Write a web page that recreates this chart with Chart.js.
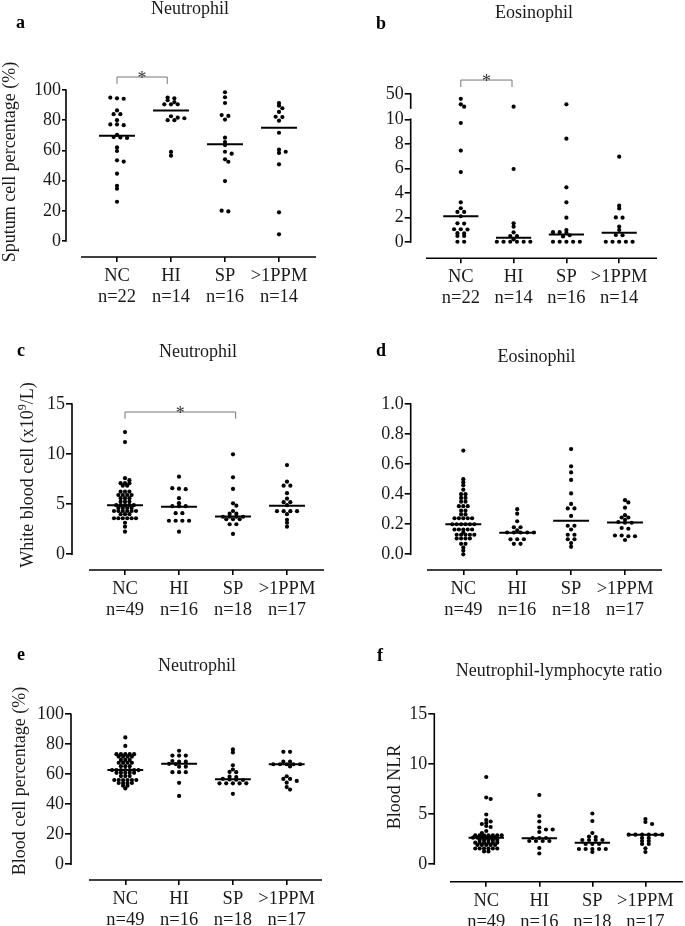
<!DOCTYPE html>
<html>
<head>
<meta charset="utf-8">
<title>Sputum and blood neutrophil / eosinophil counts</title>
<script src="https://cdn.jsdelivr.net/npm/chart.js"></script>
<style>
  body { margin: 0; background: #fff; }
  #fig { position: relative; width: 685px; height: 926px; overflow: hidden; background: #fff;
         font-family: "Liberation Serif", "Times New Roman", serif; color: #1a1a1a; }
  #fig canvas { position: absolute; }
  .title { position: absolute; font-size: 18px; line-height: 18px; white-space: nowrap; transform: translateX(-50%); }
  .letter { position: absolute; font-size: 18px; line-height: 18px; font-weight: bold; color: #000; }
</style>
</head>
<body>
<div id="fig">
  <div class="letter" style="left:16px;top:13px">a</div>
  <div class="title" style="left:190px;top:-1.5px">Neutrophil</div>
  <div class="letter" style="left:376px;top:14px">b</div>
  <div class="title" style="left:534px;top:3.3px">Eosinophil</div>
  <div class="letter" style="left:17px;top:341px">c</div>
  <div class="title" style="left:198px;top:342.3px">Neutrophil</div>
  <div class="letter" style="left:376px;top:341px">d</div>
  <div class="title" style="left:536.5px;top:347px">Eosinophil</div>
  <div class="letter" style="left:17px;top:645px">e</div>
  <div class="title" style="left:197px;top:656px">Neutrophil</div>
  <div class="letter" style="left:377px;top:646px">f</div>
  <div class="title" style="left:559px;top:661px">Neutrophil-lymphocyte ratio</div>
</div>
<script>
Chart.defaults.font.family = '"Liberation Serif", "Times New Roman", serif';
Chart.defaults.font.size = 18;
Chart.defaults.color = '#1a1a1a';

const groups = ['NC', 'HI', 'SP', '>1PPM'];
const nSputum = [22, 14, 16, 14];
const nBlood = [49, 16, 18, 17];

// a: sputum neutrophil (%)
const aNC = [95, 94.5, 94.2, 86.5, 84, 84, 80, 77.2, 77.2, 76.7, 70.3, 68.8, 68.6, 68.2, 62, 59.6, 53.4, 52.6, 44.6, 36.6, 34.6, 26];
const aHI = [95, 94.5, 93.2, 92, 90.5, 90.5, 90.5, 82.6, 81.7, 81.3, 80, 80, 59, 56.5];
const aSP = [98.5, 95.2, 91.4, 83.4, 82.8, 80.4, 68.4, 65.5, 63.5, 59.1, 57.8, 54.1, 52.5, 39.7, 20.1, 19.6];
const aPPM = [91.4, 89.6, 87.9, 85.5, 82.3, 82.1, 79.7, 71.7, 60.5, 59.1, 58.3, 50.8, 19, 4.4];
const aMedian = [69.7, 86.5, 64, 75];

// b: sputum eosinophil (%), broken axis above 10
const bNC = [40, 28, 23, 9.7, 7.45, 5.7, 3.23, 2.75, 2.45, 2.45, 2.1, 1.52, 1.5, 1.04, 1.04, 1.02, 0.72, 0.7, 0.49, 0.49, 0.02, 0.02];
const bHI = [23, 5.95, 1.52, 1.25, 0.79, 0.49, 0.49, 0.22, 0.02, 0.02, 0.02, 0.02, 0.02, 0.02];
const bSP = [28, 8.42, 4.46, 3.23, 1.98, 0.98, 0.8, 0.8, 0.75, 0.55, 0.45, 0.02, 0.02, 0.02, 0.02, 0.02];
const bPPM = [6.95, 2.96, 2.74, 2.0, 1.98, 1.25, 0.98, 0.57, 0.55, 0.02, 0.02, 0.02, 0.02, 0.02];
const bMedian = [2.1, 0.35, 0.62, 0.76];

// c: blood neutrophil (x10^9/L)
const cNC = [12.2, 11.2, 7.6, 7.4, 7.1, 7.1, 7.1, 6.85, 6.85, 6.25, 6.25, 6.25, 5.92, 5.92, 5.92, 5.92,
  5.6, 5.6, 5.6, 5.25, 5.25, 5.25, 4.9, 4.9, 4.9, 4.9, 4.9, 4.62, 4.62, 4.62, 4.62,
  4.32, 4.32, 4.32, 4.32, 4.32, 4.32, 4.0, 4.0, 4.0, 3.6, 3.6, 3.6, 3.6, 3.6, 3.6, 3.15, 2.76, 2.26];
const cHI = [7.75, 6.6, 6.55, 6.5, 5.6, 5.1, 4.8, 4.8, 4.8, 4.1, 4.1, 3.35, 3.35, 3.35, 3.35, 2.26];
const cSP = [9.98, 7.68, 6.52, 5.09, 4.85, 4.32, 4.05, 4.05, 3.75, 3.75, 3.75, 3.75, 3.5, 3.5, 3.5, 3.0, 3.0, 2.03];
const cPPM = [8.9, 7.25, 6.85, 6.85, 6.1, 5.55, 5.2, 5.2, 4.9, 4.3, 4.3, 4.3, 4.3, 4.0, 3.45, 3.15, 2.76];
const cMedian = [4.89, 4.75, 3.77, 4.85];

// d: blood eosinophil (x10^9/L)
const dNC = [0.69, 0.5, 0.48, 0.46, 0.43, 0.4, 0.4, 0.375, 0.375, 0.35, 0.35, 0.32, 0.32, 0.32,
  0.29, 0.29, 0.265, 0.265, 0.24, 0.24, 0.24, 0.24, 0.24, 0.2, 0.2, 0.2, 0.2, 0.2, 0.2,
  0.165, 0.165, 0.165, 0.165, 0.165, 0.145, 0.13, 0.13, 0.13, 0.13, 0.13, 0.105, 0.105, 0.105, 0.105,
  0.07, 0.07, 0.045, 0.025, 0.0];
const dHI = [0.3, 0.27, 0.22, 0.18, 0.18, 0.16, 0.145, 0.145, 0.145, 0.145, 0.145, 0.1, 0.1, 0.1, 0.07, 0.07];
const dSP = [0.7, 0.585, 0.545, 0.495, 0.405, 0.335, 0.305, 0.305, 0.255, 0.19, 0.19, 0.165, 0.13, 0.13, 0.1, 0.1, 0.075, 0.05];
const dPPM = [0.36, 0.345, 0.31, 0.26, 0.245, 0.245, 0.23, 0.215, 0.21, 0.21, 0.175, 0.17, 0.125, 0.125, 0.12, 0.12, 0.095];
const dMedian = [0.2, 0.144, 0.224, 0.212];

// e: blood neutrophil (%)
const eNC = [84.6, 78.9, 73.4, 73.4, 73.4, 73.4, 73.4, 71.8, 71.8, 71.8, 71.8, 69.6, 69.6, 69.6,
  67.7, 67.7, 67.7, 67.7, 65.4, 65.4, 65.4, 62.8, 62.8, 62.8, 62.8, 62.8, 62.8, 62.8,
  61, 61, 61, 61, 61, 58.8, 58.8, 58.8, 56.2, 56.2, 56.2, 56.2, 56.2, 56.2,
  54.2, 54.2, 54.2, 54.2, 52.4, 52.4, 50.6];
const eHI = [75.7, 72.5, 72.5, 72.5, 68.8, 68.4, 68.4, 67, 66.8, 65.1, 65.1, 61.4, 61.4, 61.4, 54.3, 45.6];
const eSP = [76.6, 74.6, 66, 63.2, 61.6, 61.4, 58.4, 58.2, 57, 56.6, 56.4, 56.2, 54, 54, 54, 54, 54, 47];
const ePPM = [75, 75, 68.4, 68.4, 66.7, 66.7, 66.7, 66.7, 66.7, 65.2, 58.7, 56.9, 56.9, 55.6, 54.4, 51.5, 49.8];
const eMedian = [62.9, 67, 56.7, 66.7];

// f: blood neutrophil-lymphocyte ratio
const fNC = [8.7, 6.65, 6.5, 4.95, 4.4, 4.25, 4.1, 4.0, 3.8, 3.7, 3.3, 3.1,
  2.87, 2.87, 2.87, 2.87, 2.87, 2.87, 2.87, 2.63, 2.63, 2.63, 2.63, 2.63, 2.63,
  2.4, 2.4, 2.4, 2.4, 2.4, 2.13, 2.13, 2.13, 2.13, 2.13, 2.13, 1.9, 1.9, 1.9, 1.9, 1.9,
  1.55, 1.55, 1.55, 1.55, 1.55, 1.55, 1.25, 1.25];
const fHI = [6.9, 4.8, 4.25, 3.65, 3.45, 3.45, 3.2, 2.6, 2.6, 2.6, 2.3, 2.3, 2.3, 2.3, 1.6, 1.05];
const fSP = [5.05, 4.3, 3.1, 2.75, 2.7, 2.4, 2.4, 2.4, 2.4, 2.0, 2.0, 2.0, 1.5, 1.5, 1.5, 1.5, 1.5, 1.2];
const fPPM = [4.5, 4.2, 4.0, 2.93, 2.93, 2.93, 2.93, 2.93, 2.93, 2.6, 2.6, 2.3, 2.3, 2.0, 2.0, 1.57, 1.2];
const fMedian = [2.63, 2.57, 2.13, 2.93];

// broken axis for panel b: 0-10 linear, then 20-50 squeezed into a short segment
const brk = v => (v <= 10 ? v : 10.92 + (v - 20) / 30 * 1.12);
const same = v => v;

const panels = [
  { id: 'a', box: [0, 0, 342, 310], area: [66, 90, 316, 257], cat0: 117, step: 54, xStart: 81,
    yTop: 100, yTopPx: 90, yZeroPx: 241, ticks: [0, 20, 40, 60, 80, 100], fmt: v => String(v),
    series: [aNC, aHI, aSP, aPPM], medians: aMedian, n: nSputum, tr: same, tickLen: 4,
    yTitle: [['Sputum cell percentage (%)', 18, 0]], titleAt: [8.5, 162],
    bracket: { from: 0, to: 0.93, y: 108.6, leg: 104 } },
  { id: 'b', box: [342, 0, 343, 310], area: [410.7, 94.3, 657, 258.3], cat0: 460.8, step: 52.8, xStart: 426,
    yTop: 10, yTopPx: 119.3, yZeroPx: 242, ticks: [0, 2, 4, 6, 8, 10, brk(50)], fmt: v => (v > 10.5 ? '50' : String(v)),
    segments: [[0, 10], [brk(20), brk(50)]],
    series: [bNC, bHI, bSP, bPPM], medians: bMedian, n: nSputum, tr: brk,
    bracket: { from: 0, to: 0.97, y: 13.2, leg: 12.63 } },
  { id: 'c', box: [0, 310, 342, 310], area: [72, 404, 324, 570], cat0: 125, step: 54, xStart: 89,
    yTop: 15, yTopPx: 404, yZeroPx: 554.3, ticks: [0, 5, 10, 15], fmt: v => String(v),
    series: [cNC, cHI, cSP, cPPM], medians: cMedian, n: nBlood, tr: same,
    yTitle: [['White blood cell (x10', 18, 0], ['9', 12, -7], ['/L)', 18, 0]], titleAt: [26.5, 475],
    bracket: { from: 0, to: 2.05, y: 14.2, leg: 13.53 } },
  { id: 'd', box: [342, 310, 343, 310], area: [410.7, 404, 662, 570], cat0: 463.3, step: 53.9, xStart: 427,
    yTop: 1, yTopPx: 404, yZeroPx: 554.3, ticks: [0, 0.2, 0.4, 0.6, 0.8, 1], fmt: v => v.toFixed(1),
    series: [dNC, dHI, dSP, dPPM], medians: dMedian, n: nBlood, tr: same },
  { id: 'e', box: [0, 620, 342, 306], area: [71, 714.3, 322, 880], cat0: 125.3, step: 53.8, xStart: 89,
    yTop: 100, yTopPx: 714.3, yZeroPx: 864.3, ticks: [0, 20, 40, 60, 80, 100], fmt: v => String(v),
    series: [eNC, eHI, eSP, ePPM], medians: eMedian, n: nBlood, tr: same,
    yTitle: [['Blood cell percentage (%)', 18, 0]], titleAt: [19, 781] },
  { id: 'f', box: [342, 620, 343, 306], area: [434.3, 714, 685, 881.7], cat0: 486.7, step: 53.5, xStart: 450,
    yTop: 15, yTopPx: 714, yZeroPx: 864, ticks: [0, 5, 10, 15], fmt: v => String(v),
    series: [fNC, fHI, fSP, fPPM], medians: fMedian, n: nBlood, tr: same,
    yTitle: [['Blood NLR', 18, 0]], titleAt: [393.5, 787] }
];

// axis lines, y title, significance bracket
function decor(p) {
  return {
    id: 'decor',
    afterDraw(chart) {
      const { ctx, chartArea, scales: { x, y } } = chart;
      const [bl, bt] = p.box;
      const segs = p.segments || [[0, p.yTop]];
      ctx.save();
      ctx.strokeStyle = '#000';
      ctx.lineWidth = 1.6;
      segs.forEach(([lo, hi]) => {
        ctx.beginPath();
        ctx.moveTo(chartArea.left, y.getPixelForValue(lo) + 0.8);
        ctx.lineTo(chartArea.left, y.getPixelForValue(hi) - 0.8);
        ctx.stroke();
      });
      ctx.beginPath();
      ctx.moveTo(p.xStart - bl, chartArea.bottom);
      ctx.lineTo(chartArea.right, chartArea.bottom);
      ctx.stroke();

      if (p.yTitle) {
        ctx.save();
        ctx.translate(p.titleAt[0] - bl, p.titleAt[1] - bt);
        ctx.rotate(-Math.PI / 2);
        ctx.fillStyle = '#1a1a1a';
        ctx.textBaseline = 'alphabetic';
        ctx.textAlign = 'left';
        const fontOf = s => s + 'px "Liberation Serif", "Times New Roman", serif';
        let total = 0;
        p.yTitle.forEach(([t, s]) => { ctx.font = fontOf(s); total += ctx.measureText(t).width; });
        let cx = -total / 2;
        p.yTitle.forEach(([t, s, raise]) => {
          ctx.font = fontOf(s);
          ctx.fillText(t, cx, 6 + raise);
          cx += ctx.measureText(t).width;
        });
        ctx.restore();
      }

      if (p.bracket) {
        const b = p.bracket;
        const x1 = x.getPixelForValue(b.from), x2 = x.getPixelForValue(b.to);
        const yb = y.getPixelForValue(b.y), yl = y.getPixelForValue(b.leg);
        ctx.strokeStyle = '#777';
        ctx.lineWidth = 1;
        ctx.beginPath();
        ctx.moveTo(x1, yl); ctx.lineTo(x1, yb); ctx.lineTo(x2, yb); ctx.lineTo(x2, yl);
        ctx.stroke();
        ctx.fillStyle = '#333';
        ctx.font = '18px "Liberation Serif", "Times New Roman", serif';
        ctx.textAlign = 'center';
        ctx.textBaseline = 'alphabetic';
        ctx.fillText('*', (x1 + x2) / 2, yb + 6.5);
      }
      ctx.restore();
    }
  };
}

// spread points of one column sideways so that dots do not sit on each other
function swarm(chart, vals, tr, D, Dy) {
  const ys = chart.scales.y, xs = chart.scales.x;
  const pxPerCat = xs.getPixelForValue(1) - xs.getPixelForValue(0);
  const pts = vals.map((v, k) => ({ k, py: ys.getPixelForValue(tr(v)) })).sort((a, b) => a.py - b.py);
  const rows = [];
  pts.forEach(pt => {
    const row = rows[rows.length - 1];
    if (row && pt.py - row[row.length - 1].py < 1) row.push(pt);
    else rows.push([pt]);
  });
  const placed = [];
  const off = vals.map(() => 0);
  const free = (xr, row) => row.every((pt, j) => placed.every(q => {
    const dx = (xr[j] - q.x) / D, dy = (pt.py - q.py) / Dy;
    return dx * dx + dy * dy >= 0.98;
  }));
  rows.forEach(row => {
    const k = row.length;
    const at = c => row.map((pt, j) => c + (j - (k - 1) / 2) * D);
    const near = placed.filter(q => Math.abs(q.py - row[0].py) < 8);
    const mass = near.reduce((s, q) => s + q.x, 0);
    let best = null;
    for (let m = 0; m < 100 && !best; m++) {
      const cands = m === 0 ? [0] : (mass > 0 ? [-m, m] : [m, -m]).map(s => s * D / 2);
      for (const c of cands) {
        const xr = at(c);
        if (free(xr, row)) { best = xr; break; }
      }
    }
    row.forEach((pt, j) => { off[pt.k] = best[j]; placed.push({ x: best[j], py: pt.py }); });
  });
  return off.map(o => o / pxPerCat);
}

const fig = document.getElementById('fig');

function build(p) {
  const [bl, bt, bw, bh] = p.box;
  const [al, at, ar, ab] = p.area;
  const cv = document.createElement('canvas');
  cv.width = bw; cv.height = bh;
  cv.style.left = bl + 'px'; cv.style.top = bt + 'px';
  fig.insertBefore(cv, fig.firstChild);

  const ppu = (p.yZeroPx - p.yTopPx) / p.yTop;
  const yMin = -(ab - p.yZeroPx) / ppu;
  const yMax = p.yTop + (p.yTopPx - at) / ppu;
  const xMin = (al - p.cat0) / p.step, xMax = (ar - p.cat0) / p.step;

  const dots = p.series.map((vals, i) => ({
    type: 'scatter',
    data: vals.map(v => ({ x: i, y: p.tr(v) })),
    pointRadius: 2.1, pointHoverRadius: 2.1, borderWidth: 0,
    backgroundColor: '#000', clip: false
  }));
  const medians = p.medians.map((m, i) => ({
    type: 'line',
    data: [{ x: i - 0.333, y: p.tr(m) }, { x: i + 0.333, y: p.tr(m) }],
    borderColor: '#000', borderWidth: 2, pointRadius: 0, clip: false
  }));

  const chart = new Chart(cv, {
    type: 'scatter',
    data: { datasets: dots.concat(medians) },
    options: {
      responsive: false, animation: false, events: [],
      layout: { padding: { top: at - bt, right: bl + bw - ar, left: 0, bottom: 0 } },
      plugins: { legend: { display: false }, tooltip: { enabled: false } },
      scales: {
        x: {
          type: 'linear', min: xMin, max: xMax,
          afterBuildTicks: s => { s.ticks = [0, 1, 2, 3].map(v => ({ value: v })); },
          afterFit: s => { s.height = bt + bh - ab; },
          ticks: {
            callback: v => [groups[v], 'n=' + p.n[v]],
            font: { size: 18.5, lineHeight: 1.135 }, padding: 3.5,
            maxRotation: 0, autoSkip: false, color: '#1a1a1a'
          },
          grid: { display: true, drawOnChartArea: false, drawTicks: true, tickLength: 5, color: '#000', lineWidth: 1.6 },
          border: { display: false }
        },
        y: {
          type: 'linear', min: yMin, max: yMax,
          afterBuildTicks: s => { s.ticks = p.ticks.map(v => ({ value: v })); },
          afterFit: s => { s.width = al - bl; },
          ticks: { callback: v => p.fmt(v), font: { size: 18 }, padding: 1, color: '#1a1a1a' },
          grid: { display: true, drawOnChartArea: false, drawTicks: true, tickLength: p.tickLen || 6, color: '#000', lineWidth: 1.6 },
          border: { display: false }
        }
      }
    },
    plugins: [decor(p)]
  });

  p.series.forEach((vals, i) => {
    const D = vals.length > 30 ? 4.4 : 6.7;
    const offs = swarm(chart, vals, p.tr, D, 2.6);
    chart.data.datasets[i].data.forEach((pt, j) => { pt.x = i + offs[j]; });
  });
  chart.update('none');
}

panels.forEach(build);
</script>
</body>
</html>
